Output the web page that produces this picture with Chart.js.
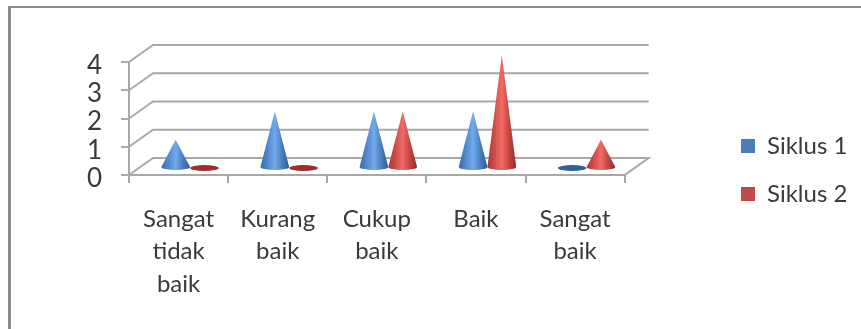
<!DOCTYPE html>
<html>
<head>
<meta charset="utf-8">
<title>Siklus</title>
<script src="https://cdn.jsdelivr.net/npm/chart.js@4"></script>
<style>
    html, body { margin: 0; padding: 0; background: #fff; }
    #frame { position: absolute; left: 8px; top: 6px; width: 853px; height: 323px;
             border-top: 2px solid #8c8c8c; border-left: 3px solid #8c8c8c; box-sizing: border-box; }
    #wrap { position: absolute; left: 0; top: 0; width: 861px; height: 329px; }
</style>
</head>
<body>
<div id="frame"></div>
<div id="wrap"><canvas id="chart"></canvas></div>
<script>
// ─── Data ───────────────────────────────────────────────────────────────────

const categories = [["Sangat", "tidak", "baik"], ["Kurang", "baik"], ["Cukup", "baik"], "Baik", ["Sangat", "baik"]];
const siklus1 = [1, 2, 2, 2, 0];
const siklus2 = [0, 0, 2, 4, 1];
const yTicks = [0, 1, 2, 3, 4];

// ─── Look ───────────────────────────────────────────────────────────────────

const FONT = "Lato, 'Open Sans', sans-serif";
const TEXT = "#3a3a3a";
const GRID = "#a8a8a8";
const DEPTH = {x: 24, y: -17};     // back wall relative to the front axes
const FLOOR = {x: 11.5, y: -7};    // cones stand in the middle of the floor

const CONES = [
    {legend: "#4a7ebb", flat: "#2f6299", stops: ["#3a6cab", "#5288cc", "#72aaee", "#4a7ebe", "#2c5b96"]},
    {legend: "#be4b48", flat: "#a32b2a", stops: ["#a63a38", "#cc4e4b", "#f26a66", "#c44542", "#8e2b29"]},
];

// ─── 3D walls and floor behind the bars ─────────────────────────────────────

const wallsPlugin = {
    id: "walls",
    beforeDatasetsDraw(chart) {
        const {ctx, chartArea: area, scales: {y}} = chart;
        ctx.save();
        ctx.strokeStyle = GRID;
        ctx.lineWidth = 2;
        for (const value of yTicks) {
            const py = y.getPixelForValue(value);
            ctx.beginPath();
            ctx.moveTo(area.left, py);
            ctx.lineTo(area.left + DEPTH.x, py + DEPTH.y);
            ctx.lineTo(area.right + DEPTH.x, py + DEPTH.y);
            if (value === 0) {
                ctx.lineTo(area.right, py);
                ctx.lineTo(area.left, py);
            }
            ctx.stroke();
        }
        ctx.restore();
    },
};

// ─── Cones in place of the flat bars ────────────────────────────────────────

function drawCone(ctx, bar, look) {
    const cx = bar.x + FLOOR.x;
    const baseY = bar.base + FLOOR.y;
    const topY = bar.y + FLOOR.y;
    const rx = bar.width / 2;
    const ry = 3;

    // value 0 — only the base disc is left
    if (Math.abs(baseY - topY) < 1) {
        ctx.fillStyle = look.flat;
        ctx.beginPath();
        ctx.ellipse(cx, baseY, rx, ry, 0, 0, Math.PI * 2);
        ctx.fill();
        return;
    }

    const grad = ctx.createLinearGradient(cx - rx, 0, cx + rx, 0);
    look.stops.forEach((color, i) => grad.addColorStop(i / (look.stops.length - 1), color));
    ctx.fillStyle = grad;
    ctx.beginPath();
    ctx.moveTo(cx, topY);
    ctx.lineTo(cx + rx, baseY);
    ctx.ellipse(cx, baseY, rx, ry, 0, 0, Math.PI);
    ctx.closePath();
    ctx.fill();
}

const conesPlugin = {
    id: "cones",
    afterDatasetsDraw(chart) {
        const {ctx} = chart;
        ctx.save();
        chart.data.datasets.forEach((ds, i) => {
            for (const bar of chart.getDatasetMeta(i).data) {
                drawCone(ctx, bar, CONES[i]);
            }
        });
        ctx.restore();
    },
};

// the legend sits far to the right of the plot, not next to it
const legendPlugin = {
    id: "legendSpot",
    afterLayout(chart) {
        const legend = chart.legend;
        legend.left = 717;
        legend.right = 861;
        legend.width = 144;
        legend.top = 104;
        legend.bottom = 236;
        legend.height = 132;
    },
};

// ─── Chart ──────────────────────────────────────────────────────────────────

new Chart(document.getElementById("chart"), {
    type: "bar",
    plugins: [wallsPlugin, conesPlugin, legendPlugin],
    data: {
        labels: categories,
        datasets: [
            {label: "Siklus 1", data: siklus1, backgroundColor: "transparent", legendColor: CONES[0].legend},
            {label: "Siklus 2", data: siklus2, backgroundColor: "transparent", legendColor: CONES[1].legend},
        ],
    },
    options: {
        responsive: true,
        maintainAspectRatio: false,
        animation: false,
        layout: {padding: {top: 62, left: 0, right: 96, bottom: 0}},
        datasets: {bar: {categoryPercentage: 0.58, barPercentage: 1}},
        scales: {
            x: {
                afterFit: (scale) => { scale.height = 154; },
                grid: {offset: true, drawOnChartArea: false, color: GRID, lineWidth: 2, tickLength: 8},
                border: {display: false},
                ticks: {color: TEXT, font: {family: FONT, size: 24, lineHeight: 1.35}, maxRotation: 0, autoSkip: false, padding: 20},
            },
            y: {
                min: 0,
                max: 4,
                afterFit: (scale) => { scale.width = 129; },
                afterBuildTicks: (scale) => { scale.ticks = yTicks.map((value) => ({value})); },
                grid: {drawOnChartArea: false, color: GRID, lineWidth: 2, tickLength: 8},
                border: {display: true, color: GRID, width: 2},
                // empty first line pushes the digit a little below its tick
                ticks: {
                    color: TEXT,
                    font: {family: FONT, size: 26, lineHeight: 0.27},
                    padding: 19,
                    autoSkip: false,
                    callback: (value) => ["", String(value)],
                },
            },
        },
        plugins: {
            tooltip: {enabled: false},
            legend: {
                position: "right",
                labels: {
                    color: TEXT,
                    font: {family: FONT, size: 24},
                    boxWidth: 14,
                    boxHeight: 14,
                    padding: 24,
                    generateLabels: (chart) => chart.data.datasets.map((ds, i) => ({
                        text: ds.label,
                        fillStyle: ds.legendColor,
                        strokeStyle: ds.legendColor,
                        lineWidth: 0,
                        fontColor: TEXT,
                        datasetIndex: i,
                    })),
                },
            },
        },
    },
});
</script>
</body>
</html>
